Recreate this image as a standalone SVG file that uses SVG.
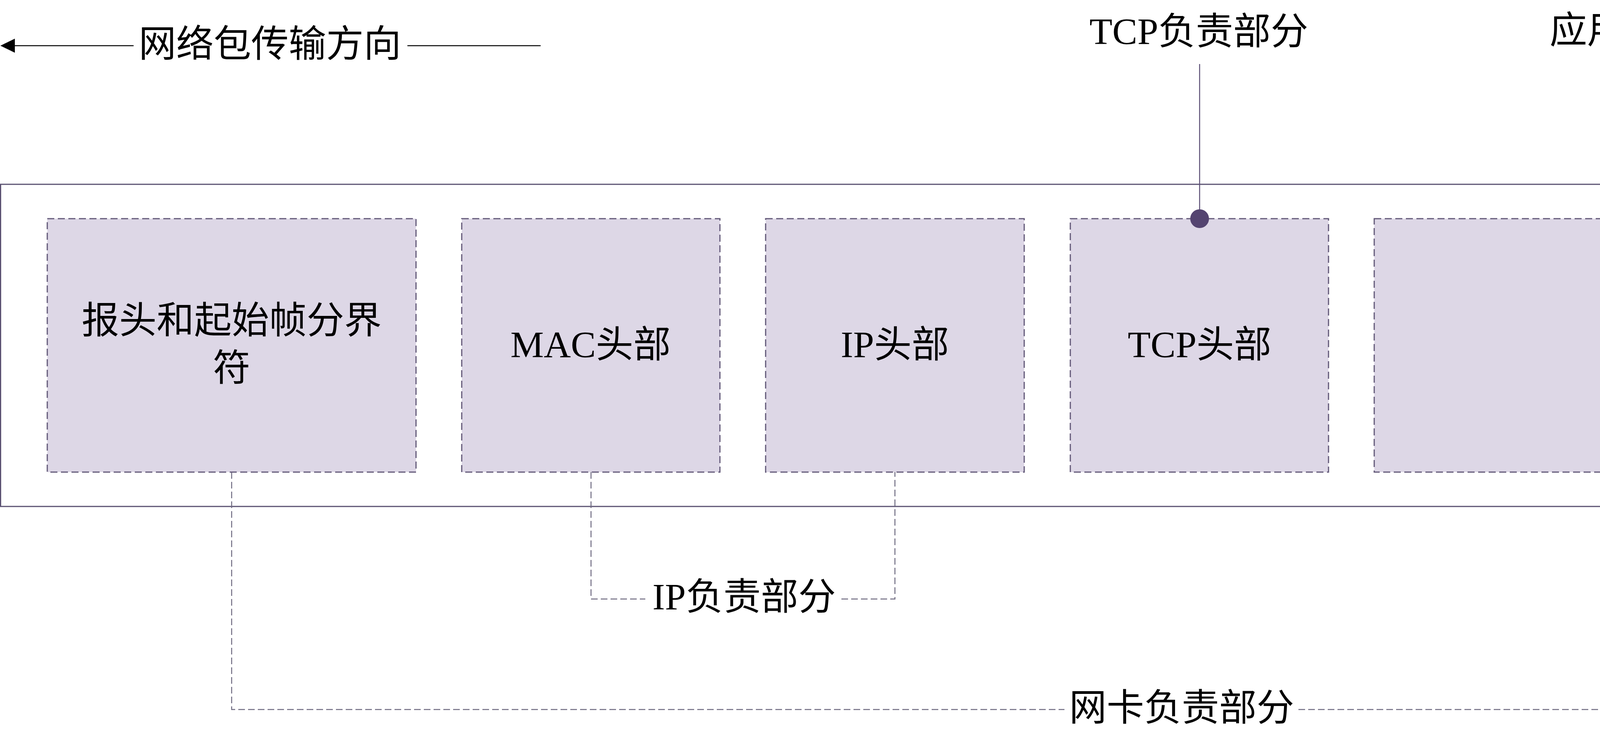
<svg xmlns="http://www.w3.org/2000/svg" width="5906" height="1913" viewBox="0 0 5906 1913">
<style>
.t{font-family:"Liberation Serif","Noto Sans CJK SC",serif;font-size:96px;fill:#000;text-anchor:middle;dominant-baseline:central}
.box{fill:#ddd7e6;stroke:#625878;stroke-width:3;stroke-dasharray:18 9}
.conn{fill:none;stroke:#6e6a80;stroke-width:2.5;stroke-dasharray:17 8}
.lead{stroke:#5a4c74;stroke-width:2.5}
.dot{fill:#544470}
</style>
<rect width="5906" height="1913" fill="#fff"/>

<g id="direction">
<line x1="38" y1="117" x2="342" y2="117" stroke="#000" stroke-width="2.5"/>
<path d="M1 117 L38 99 L38 135 Z" fill="#000"/>
<line x1="1043" y1="117" x2="1384" y2="117" stroke="#000" stroke-width="2.5"/>
<text class="t" x="691" y="112">网络包传输方向</text>
</g>

<g id="frame">
<rect x="1.5" y="472" width="5903" height="825" fill="none" stroke="#5b5272" stroke-width="3"/>
</g>

<g id="connectors">
<polyline class="conn" points="1513,1209 1513,1534 1652,1534"/>
<polyline class="conn" points="2154,1534 2291,1534 2291,1209"/>
<polyline class="conn" points="593,1209 593,1817 2725,1817"/>
<polyline class="conn" points="3324,1817 5457,1817 5457,1209"/>
<line class="lead" x1="3071" y1="164" x2="3071" y2="560"/>
<line class="lead" x1="4257" y1="173" x2="4257" y2="560"/>
</g>

<g id="node-preamble">
<rect class="box" x="121" y="560" width="944" height="649"/>
<text class="t" x="593" y="820">报头和起始帧分界</text>
<text class="t" x="593" y="942">符</text>
</g>
<g id="node-mac">
<rect class="box" x="1182" y="560" width="661" height="649"/>
<text class="t" x="1512" y="882">MAC头部</text>
</g>
<g id="node-ip">
<rect class="box" x="1960" y="560" width="662" height="649"/>
<text class="t" x="2291" y="882">IP头部</text>
</g>
<g id="node-tcp">
<rect class="box" x="2740" y="560" width="661" height="649"/>
<text class="t" x="3071" y="882">TCP头部</text>
</g>
<g id="node-data">
<rect class="box" x="3518" y="560" width="1478" height="649"/>
<text class="t" x="4257" y="882">数据</text>
</g>
<g id="node-fcs">
<rect class="box" x="5127" y="560" width="660" height="649"/>
<text class="t" x="5457" y="882">FCS</text>
</g>

<g id="dots">
<circle class="dot" cx="3071" cy="560" r="24"/>
<circle class="dot" cx="4257" cy="560" r="24"/>
</g>

<g id="labels">
<text class="t" x="3069" y="80">TCP负责部分</text>
<text class="t" x="4255" y="77">应用程序生成</text>
<text class="t" x="1905" y="1528">IP负责部分</text>
<text class="t" x="3025" y="1812">网卡负责部分</text>
</g>
</svg>
